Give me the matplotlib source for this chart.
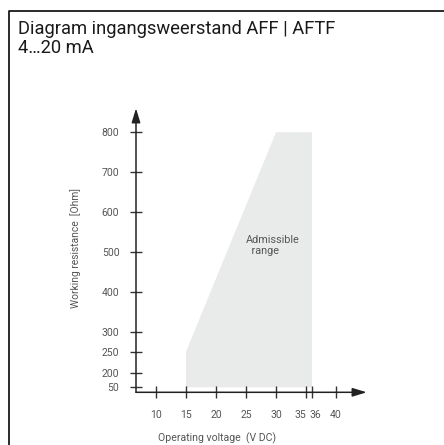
import matplotlib
matplotlib.use("Agg")
import matplotlib.pyplot as plt
import matplotlib.transforms as mtransforms
import numpy as np
from matplotlib.lines import Line2D

plt.rcParams['font.family'] = ['Roboto', 'DejaVu Sans']

# Data
TITLE = "Diagram ingangsweerstand AFF | AFTF\n4…20 mA"
X_TICKS = [10, 15, 20, 25, 30, 35, 36, 40]
Y_TICKS = [50, 200, 250, 300, 400, 500, 600, 700, 800]
# admissible range polygon (voltage, resistance)
RANGE_V = [15, 15, 30, 36, 36]
RANGE_R = [50, 250, 800, 800, 50]

# Broken resistance axis: value -> vertical position (pixels above the x axis)
SCALE_VALUES = [0, 50, 200, 250, 300, 400, 500, 600, 700, 800, 1000]
SCALE_POS = [0, 5, 19.6, 40.6, 60, 100, 140, 180, 220, 260, 340]


def fwd(v):
    return np.interp(v, SCALE_VALUES, SCALE_POS)


def inv(p):
    return np.interp(p, SCALE_POS, SCALE_VALUES)


W, H = 444, 445
fig = plt.figure(figsize=(W / 100, H / 100), dpi=100)

# frame lines (top and left only)
fig.add_artist(Line2D([8.5 / W, 8.5 / W, 1], [0, 1 - 10.8 / H, 1 - 10.8 / H],
                      transform=fig.transFigure, color='#1a1a1a', lw=1.3))

fig.text(18 / W, 1 - 19.5 / H, TITLE, ha='left', va='top', fontsize=13.2,
         color='#1a1a1a', linespacing=1.12)

ax = fig.add_axes([136 / W, 1 - 392.3 / H, (366.7 - 136) / W, 284 / H])
ax.set_yscale('function', functions=(fwd, inv))
ax.set_xlim(10 - 20 / 6, 10 + (366.7 - 156) / 6)
ax.set_ylim(0, 860)

ax.fill(RANGE_V, RANGE_R, color='#e9eaea', lw=0, zorder=1)
ax.text(29.4, 517, "Admissible\n  range", ha='center', va='center',
        fontsize=7.8, color='#555555', multialignment='left', linespacing=1.2)

for s in ax.spines.values():
    s.set_visible(False)

arrow = dict(arrowstyle='-|>,head_length=0.85,head_width=0.26', color='#222222',
             lw=1.1, shrinkA=0, shrinkB=0, mutation_scale=10)
ax.annotate('', xy=(1, 0), xytext=(0, 0), xycoords='axes fraction', arrowprops=arrow)
ax.annotate('', xy=(0, 1), xytext=(0, 0), xycoords='axes fraction', arrowprops=arrow)

ax.set_xticks(X_TICKS)
ax.set_xticklabels([str(t) for t in X_TICKS])
ax.set_yticks(Y_TICKS)
ax.set_yticklabels([str(t) for t in Y_TICKS])
ax.minorticks_off()
ax.tick_params(direction='inout', length=8, width=1, color='#333333',
               labelsize=7.5, labelcolor='#555555')
ax.tick_params(axis='x', pad=9)
ax.tick_params(axis='y', pad=8)

# 35 and 36 sit close together: push their labels apart
labels = ax.get_xticklabels()
for lab in labels:
    if lab.get_text() == '35':
        lab.set_horizontalalignment('right')
        lab.set_transform(lab.get_transform() + mtransforms.ScaledTranslation(0.5 / 100, 0, fig.dpi_scale_trans))
    if lab.get_text() == '36':
        lab.set_horizontalalignment('left')
        lab.set_transform(lab.get_transform() + mtransforms.ScaledTranslation(-2 / 100, 0, fig.dpi_scale_trans))

fig.text(217 / W, 1 - 438 / H, "Operating voltage  (V DC)", ha='center', va='center',
         fontsize=7.6, color='#555555')
fig.text(76 / W, 1 - 248 / H, "Working resistance  [Ohm]", ha='center', va='center',
         rotation=90, fontsize=7.4, color='#555555')

fig.savefig("out.png", dpi=100)
